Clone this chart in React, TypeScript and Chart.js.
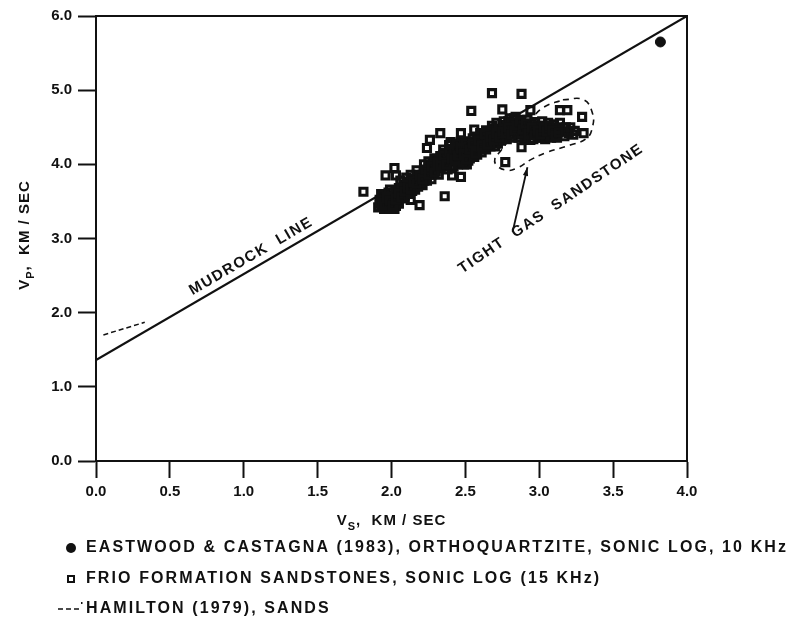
import React, { useEffect, useRef } from "react";
import { Chart, registerables } from "chart.js";

Chart.register(...registerables);

// ---- data ----
const mudrockVs = [0.0, 4.0];
const mudrockVp = [1.36, 6.0];

const hamiltonVs = [0.05, 0.33];
const hamiltonVp = [1.7, 1.87];

const eastwoodVs = [3.82];
const eastwoodVp = [5.65];

const frioVs = [
  1.93, 1.95, 1.94, 1.97, 1.98, 2.0, 1.96, 2.01, 2.03, 2.0, 2.04, 2.05, 2.07, 2.08, 2.06, 2.1, 2.11, 2.12, 1.99, 2.02,
  2.14, 2.15, 2.17, 2.18, 2.2, 2.22, 2.23, 2.25, 2.26, 2.28, 2.29, 2.3, 2.31, 2.33, 2.34, 2.16, 2.21, 2.27,
  2.36, 2.37, 2.38, 2.4, 2.41, 2.42, 2.44, 2.45, 2.46, 2.48, 2.49, 2.5, 2.51, 2.52, 2.53, 2.55, 2.56, 2.57, 2.58, 2.59, 2.39, 2.47,
  2.6, 2.62, 2.63, 2.65, 2.66, 2.68, 2.69, 2.7, 2.72, 2.73, 2.75, 2.76, 2.78, 2.79, 2.8, 2.82, 2.83, 2.85, 2.86, 2.88, 2.71,
  2.9, 2.91, 2.93, 2.95, 2.96, 2.98, 3.0, 3.01, 3.03, 3.05, 3.06, 3.08, 3.1, 3.12, 3.14, 2.94, 3.02,
  1.94, 1.96, 1.98, 2.0, 2.02, 2.04, 2.06, 2.08, 2.09, 1.97, 2.01, 2.05,
  2.13, 2.15, 2.19, 2.21, 2.24, 2.26, 2.28, 2.3, 2.32, 2.35, 2.38, 2.4, 2.42, 2.44, 2.46, 2.48, 2.5, 2.52, 2.54, 2.56,
  2.58, 2.6, 2.62, 2.64, 2.66, 2.68, 2.7, 2.72, 2.74, 2.76, 2.78, 2.8, 2.82, 2.84, 2.86, 2.88, 2.9, 2.92, 2.94, 2.97,
  2.99, 3.02, 3.04, 3.07, 3.09, 3.11, 3.13, 3.16,
  1.91, 1.92, 1.95, 1.99, 2.03, 2.05, 1.93, 1.98,
  2.09, 2.12, 2.14, 2.18, 2.2, 2.1, 2.13, 2.17, 2.22, 2.07,
  2.24, 2.27, 2.3, 2.33, 2.35, 2.22, 2.25, 2.29, 2.32, 2.36,
  2.38, 2.42, 2.45, 2.48, 2.51, 2.53, 2.35, 2.4, 2.44, 2.5, 2.43, 2.52,
  2.55, 2.58, 2.61, 2.64, 2.67, 2.7, 2.55, 2.6, 2.64, 2.68, 2.62, 2.72,
  2.74, 2.78, 2.82, 2.86, 2.9, 2.76, 2.8, 2.84, 2.88, 2.92, 2.81, 2.87,
  2.96, 3.0, 3.04, 3.08, 3.12, 2.97, 3.02, 3.06, 3.1, 3.14,
  3.17, 3.2, 3.23, 3.18,
  1.92, 1.95, 1.97, 1.99, 2.01, 2.03, 2.05, 2.07, 2.09, 2.11, 2.13, 2.15, 2.17, 2.19, 2.21, 2.23, 2.25, 2.27, 2.29, 2.31,
  2.33, 2.35, 2.37, 2.39, 2.41, 2.43, 2.45, 2.47, 2.49, 2.51, 2.53, 2.55, 2.57, 2.59, 2.61, 2.63, 2.65, 2.67, 2.69, 2.71,
  2.73, 2.75, 2.77, 2.79, 2.81, 2.83, 2.85, 2.87, 2.89, 2.91, 2.93, 2.95, 2.97, 2.99, 3.01, 3.03, 3.05, 3.07, 3.09, 3.11,
  3.13,
  1.81, 2.36, 2.68, 2.88, 2.54, 2.75, 2.94, 3.14, 3.19, 3.29, 3.21, 3.3, 2.88, 2.77, 2.56, 2.33, 2.47, 2.26, 2.41, 2.47,
  2.19, 2.13, 2.02, 1.96, 2.03, 2.24, 3.24,
];
const frioVp = [
  3.45, 3.5, 3.56, 3.42, 3.48, 3.53, 3.6, 3.58, 3.63, 3.45, 3.5, 3.68, 3.6, 3.72, 3.78, 3.65, 3.76, 3.7, 3.66, 3.4,
  3.8, 3.72, 3.86, 3.77, 3.82, 3.91, 3.84, 3.96, 3.88, 4.01, 3.93, 4.06, 3.98, 4.11, 4.02, 3.66, 3.72, 3.8,
  4.15, 4.05, 3.98, 4.12, 4.21, 4.04, 4.15, 4.26, 4.08, 4.18, 4.0, 4.12, 4.23, 4.05, 4.31, 4.18, 4.1, 4.27, 4.36, 4.2, 4.26, 4.31,
  4.28, 4.38, 4.22, 4.32, 4.43, 4.3, 4.48, 4.38, 4.28, 4.46, 4.53, 4.36, 4.46, 4.58, 4.4, 4.51, 4.62, 4.46, 4.55, 4.4, 4.56,
  4.5, 4.38, 4.45, 4.55, 4.4, 4.48, 4.42, 4.52, 4.45, 4.38, 4.5, 4.44, 4.48, 4.41, 4.46, 4.33, 4.36,
  3.47, 3.53, 3.57, 3.62, 3.55, 3.58, 3.64, 3.66, 3.58, 3.5, 3.48, 3.55,
  3.74, 3.8, 3.8, 3.86, 3.89, 3.94, 3.95, 4.0, 4.04, 4.08, 4.1, 4.05, 4.14, 4.09, 4.18, 4.1, 4.2, 4.15, 4.24, 4.2,
  4.28, 4.22, 4.3, 4.36, 4.34, 4.4, 4.45, 4.4, 4.4, 4.48, 4.52, 4.48, 4.44, 4.55, 4.48, 4.52, 4.44, 4.52, 4.48, 4.44,
  4.52, 4.47, 4.42, 4.47, 4.4, 4.45, 4.5, 4.44,
  3.42, 3.52, 3.4, 3.4, 3.44, 3.47, 3.6, 3.62,
  3.54, 3.6, 3.64, 3.7, 3.76, 3.82, 3.86, 3.92, 3.78, 3.68,
  3.78, 3.86, 3.9, 3.95, 3.97, 4.0, 4.04, 4.08, 3.86, 4.02,
  3.93, 3.97, 4.0, 4.03, 4.0, 4.08, 4.2, 4.3, 4.28, 4.28, 4.22, 4.18,
  4.14, 4.13, 4.16, 4.2, 4.24, 4.24, 4.35, 4.42, 4.46, 4.52, 4.26, 4.33,
  4.32, 4.34, 4.36, 4.36, 4.34, 4.58, 4.62, 4.64, 4.6, 4.6, 4.56, 4.42,
  4.34, 4.36, 4.34, 4.36, 4.36, 4.57, 4.58, 4.56, 4.54, 4.56,
  4.38, 4.42, 4.4, 4.5,
  3.48, 3.45, 3.56, 3.51, 3.44, 3.53, 3.61, 3.55, 3.63, 3.69, 3.67, 3.76, 3.74, 3.85, 3.8, 3.93, 3.86, 3.97, 3.89, 4.02,
  3.99, 4.12, 4.0, 4.18, 4.08, 4.06, 4.12, 4.22, 4.14, 4.07, 4.2, 4.28, 4.15, 4.32, 4.25, 4.4, 4.27, 4.37, 4.33, 4.42,
  4.36, 4.44, 4.42, 4.5, 4.4, 4.46, 4.52, 4.58, 4.47, 4.55, 4.41, 4.5, 4.39, 4.46, 4.4, 4.5, 4.44, 4.52, 4.46, 4.38,
  4.43,
  3.63, 3.57, 4.96, 4.95, 4.72, 4.74, 4.73, 4.73, 4.73, 4.64, 4.5, 4.42, 4.23, 4.03, 4.47, 4.42, 4.42, 4.33, 3.85, 3.83,
  3.45, 3.52, 3.95, 3.85, 3.85, 4.22, 4.45,
];

const tightGasVs = [3.16, 3.3, 3.36, 3.36, 3.32, 3.21, 3.05, 2.94, 2.85, 2.78, 2.71, 2.7, 2.73, 2.8, 2.94, 3.03, 3.16];
const tightGasVp = [4.87, 4.87, 4.69, 4.5, 4.35, 4.26, 4.16, 4.06, 3.95, 3.92, 3.99, 4.08, 4.16, 4.33, 4.6, 4.77, 4.87];

const arrowVs = [2.82, 2.92];
const arrowVp = [3.09, 3.96];

const mudrockLabel = "MUDROCK  LINE";
const mudrockLabelAt = [1.05, 2.76];
const tightLabel = "TIGHT  GAS  SANDSTONE";
const tightLabelAt = [3.08, 3.4];
const tightLabelAngleDeg = -34;

const legendItems = [
  "EASTWOOD & CASTAGNA (1983), ORTHOQUARTZITE, SONIC LOG, 10 KHz",
  "FRIO FORMATION SANDSTONES, SONIC LOG (15 KHz)",
  "HAMILTON (1979), SANDS",
];

const FONT = "'Liberation Sans', Arial, Helvetica, sans-serif";
const INK = "#111";

const pts = (xs: number[], ys: number[]) => xs.map((v, i) => ({ x: v, y: ys[i] }));

function drawParts(
  ctx: CanvasRenderingContext2D,
  parts: { t: string; sub?: boolean }[],
  cx: number,
  cy: number,
  size: number
) {
  const widths = parts.map((p) => {
    ctx.font = `bold ${p.sub ? Math.round(size * 0.7) : size}px ${FONT}`;
    return ctx.measureText(p.t).width;
  });
  const total = widths.reduce((a, b) => a + b, 0);
  let x = cx - total / 2;
  ctx.textBaseline = "middle";
  ctx.textAlign = "left";
  parts.forEach((p, i) => {
    ctx.font = `bold ${p.sub ? Math.round(size * 0.7) : size}px ${FONT}`;
    ctx.fillText(p.t, x, p.sub ? cy + size * 0.4 : cy);
    x += widths[i];
  });
}

const decorPlugin = {
  id: "decor",
  afterDatasetsDraw(chart: any) {
    const { ctx, chartArea: a, scales } = chart;
    const x = scales.x;
    const y = scales.y;
    ctx.save();
    ctx.strokeStyle = INK;
    ctx.fillStyle = INK;
    ctx.lineWidth = 2;
    ctx.strokeRect(a.left, a.top, a.right - a.left, a.bottom - a.top);

    // arrowhead
    const x0 = x.getPixelForValue(arrowVs[0]);
    const y0 = y.getPixelForValue(arrowVp[0]);
    const x1 = x.getPixelForValue(arrowVs[1]);
    const y1 = y.getPixelForValue(arrowVp[1]);
    const ang = Math.atan2(y1 - y0, x1 - x0);
    ctx.beginPath();
    ctx.moveTo(x1, y1);
    ctx.lineTo(x1 - 9 * Math.cos(ang - 0.3), y1 - 9 * Math.sin(ang - 0.3));
    ctx.lineTo(x1 - 9 * Math.cos(ang + 0.3), y1 - 9 * Math.sin(ang + 0.3));
    ctx.closePath();
    ctx.fill();

    // rotated labels
    const lineAng = Math.atan2(
      y.getPixelForValue(mudrockVp[1]) - y.getPixelForValue(mudrockVp[0]),
      x.getPixelForValue(mudrockVs[1]) - x.getPixelForValue(mudrockVs[0])
    );
    ctx.font = `bold 15px ${FONT}`;
    (ctx as any).letterSpacing = "1.5px";
    ctx.textAlign = "center";
    ctx.textBaseline = "middle";
    ctx.save();
    ctx.translate(x.getPixelForValue(mudrockLabelAt[0]), y.getPixelForValue(mudrockLabelAt[1]));
    ctx.rotate(lineAng);
    ctx.fillText(mudrockLabel, 0, 0);
    ctx.restore();
    ctx.save();
    ctx.translate(x.getPixelForValue(tightLabelAt[0]), y.getPixelForValue(tightLabelAt[1]));
    ctx.rotate((tightLabelAngleDeg * Math.PI) / 180);
    ctx.fillText(tightLabel, 0, 0);
    ctx.restore();
    (ctx as any).letterSpacing = "0px";
    ctx.restore();
  },
  afterDraw(chart: any) {
    const { ctx, chartArea: a } = chart;
    ctx.save();
    ctx.fillStyle = INK;
    ctx.strokeStyle = INK;
    (ctx as any).letterSpacing = "1px";
    // x title
    drawParts(ctx, [{ t: "V" }, { t: "S", sub: true }, { t: ",  KM / SEC" }], (a.left + a.right) / 2, 521, 15);
    // y title
    ctx.save();
    ctx.translate(25, 235);
    ctx.rotate(-Math.PI / 2);
    drawParts(ctx, [{ t: "V" }, { t: "P", sub: true }, { t: ",  KM / SEC" }], 0, 0, 15);
    ctx.restore();

    // legend
    const tx = 86;
    const ys = [548, 579, 609];
    ctx.font = `bold 16px ${FONT}`;
    (ctx as any).letterSpacing = "0px";
    const w0 = ctx.measureText(legendItems[0]).width;
    const spacing = Math.max(0, (788 - tx - w0) / legendItems[0].length);
    (ctx as any).letterSpacing = `${spacing.toFixed(2)}px`;
    ctx.textAlign = "left";
    ctx.textBaseline = "middle";
    legendItems.forEach((t, i) => ctx.fillText(t, tx, ys[i]));
    (ctx as any).letterSpacing = "0px";
    // markers
    ctx.beginPath();
    ctx.arc(71, ys[0], 5, 0, Math.PI * 2);
    ctx.fill();
    ctx.lineWidth = 2;
    ctx.strokeRect(68, ys[1] - 3, 6, 6);
    ctx.lineWidth = 1.6;
    ctx.setLineDash([5, 3]);
    ctx.beginPath();
    ctx.moveTo(58, ys[2]);
    ctx.lineTo(79, ys[2]);
    ctx.stroke();
    ctx.setLineDash([]);
    ctx.fillRect(81, ys[2] - 7, 1.5, 2);
    ctx.restore();
  },
};

export default function App() {
  const ref = useRef<HTMLCanvasElement | null>(null);
  useEffect(() => {
    if (!ref.current) return;
    const chart = new Chart(ref.current, {
      type: "scatter",
      data: {
        datasets: [
          {
            label: "Mudrock line",
            data: pts(mudrockVs, mudrockVp),
            showLine: true,
            borderColor: INK,
            borderWidth: 2.2,
            pointRadius: 0,
            order: 5,
          },
          {
            label: "Hamilton (1979), sands",
            data: pts(hamiltonVs, hamiltonVp),
            showLine: true,
            borderColor: INK,
            borderWidth: 1.5,
            borderDash: [5, 3],
            pointRadius: 0,
            order: 4,
          },
          {
            label: "Tight gas sandstone",
            data: pts(tightGasVs, tightGasVp),
            showLine: true,
            borderColor: INK,
            borderWidth: 1.6,
            borderDash: [6, 5],
            tension: 0.45,
            pointRadius: 0,
            order: 1,
          },
          {
            label: "Arrow",
            data: pts(arrowVs, arrowVp),
            showLine: true,
            borderColor: INK,
            borderWidth: 1.8,
            pointRadius: 0,
            order: 1,
          },
          {
            label: "Frio formation sandstones",
            data: pts(frioVs, frioVp),
            pointStyle: "rect",
            pointRadius: 5,
            backgroundColor: "rgba(255,255,255,0)",
            borderColor: INK,
            borderWidth: 3.1,
            order: 3,
          },
          {
            label: "Eastwood & Castagna (1983)",
            data: pts(eastwoodVs, eastwoodVp),
            pointStyle: "circle",
            pointRadius: 5,
            backgroundColor: INK,
            borderColor: INK,
            order: 2,
          },
        ],
      },
      options: {
        responsive: false,
        animation: false,
        devicePixelRatio: 1,
        layout: { padding: { top: 16, right: 111, bottom: 0, left: 0 } },
        plugins: { legend: { display: false }, tooltip: { enabled: false } },
        scales: {
          x: {
            type: "linear",
            min: 0,
            max: 4,
            ticks: {
              stepSize: 0.5,
              color: INK,
              padding: 5,
              font: { family: FONT, size: 15, weight: "bold" },
              callback: (v: any) => Number(v).toFixed(1),
            },
            grid: { drawOnChartArea: false, drawTicks: true, tickLength: 17, tickWidth: 2, tickColor: INK, color: INK },
            border: { display: true, color: INK, width: 2 },
            afterFit: (s: any) => {
              s.height = 629 - 461;
            },
          },
          y: {
            type: "linear",
            min: 0,
            max: 6,
            ticks: {
              stepSize: 1,
              color: INK,
              padding: 6,
              font: { family: FONT, size: 15, weight: "bold" },
              callback: (v: any) => Number(v).toFixed(1),
            },
            grid: { drawOnChartArea: false, drawTicks: true, tickLength: 18, tickWidth: 2, tickColor: INK, color: INK },
            border: { display: true, color: INK, width: 2 },
            afterFit: (s: any) => {
              s.width = 96;
            },
          },
        },
      },
      plugins: [decorPlugin],
    });
    return () => chart.destroy();
  }, []);
  return (
    <div style={{ position: "absolute", left: 0, top: 0, width: 798, height: 629, background: "#fff" }}>
      <canvas ref={ref} width={798} height={629} style={{ display: "block" }} />
    </div>
  );
}
